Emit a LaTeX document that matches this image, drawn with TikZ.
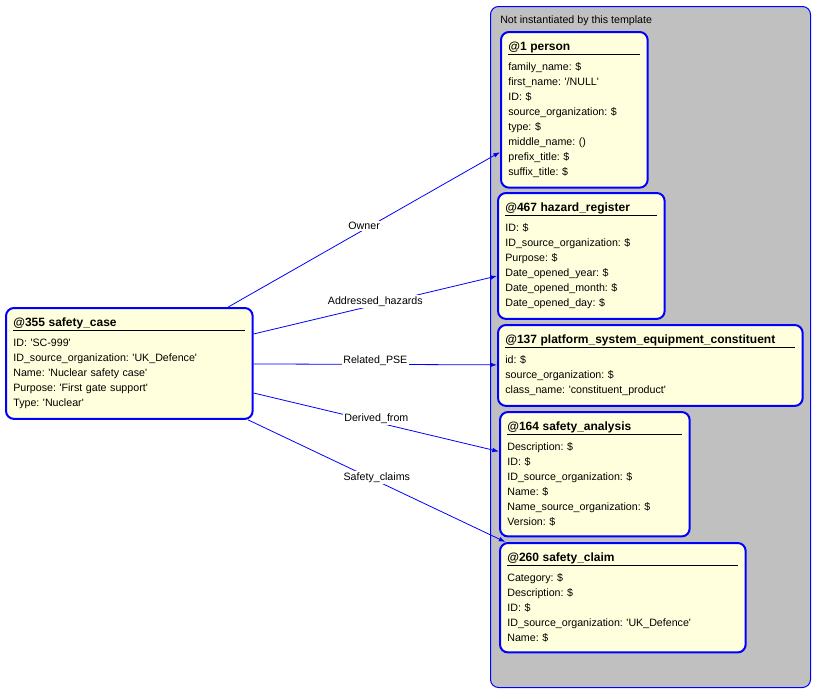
\documentclass[tikz,border=0pt]{standalone}
\usepackage{fontspec}
\newfontfamily\uifont{Liberation Sans}
\usetikzlibrary{arrows.meta}
\definecolor{notefill}{RGB}{255,255,221}
\definecolor{tmplgray}{RGB}{192,192,192}
\tikzset{
  entity/.style={draw=blue, line width=1.5pt, fill=notefill, rounded corners=6pt,
    anchor=north west, inner xsep=5.5pt, inner ysep=7.5pt, align=left,
    font=\uifont\fontsize{8}{11.25}\selectfont\frenchspacing},
  rel/.style={draw=blue, line width=0.6pt, -{Latex[length=5pt,width=3.5pt]}},
  rellabel/.style={fill=white, inner sep=1pt, yshift=2.5pt, font=\uifont\fontsize{8}{10}\selectfont}
}
\newcommand{\enttitle}[1]{\rlap{\rule[-3pt]{\linewidth}{0.75pt}}{\fontsize{9}{11.25}\selectfont\bfseries #1}\\[3.75pt]}
\begin{document}
\begin{tikzpicture}[x=0.75pt,y=-0.75pt]
\useasboundingbox (0,0) rectangle (822,697);
% template frame
\node[draw=blue, line width=0.75pt, fill=tmplgray, rounded corners=6pt, anchor=north west,
  minimum width=240pt, minimum height=510.75pt, inner sep=0pt] (template) at (490,6) {};
\node[anchor=west, inner sep=0pt, font=\uifont\fontsize{8}{10}\selectfont] (tmpltitle) at (500,21) {Not instantiated by this template};
% entities
\node[entity, text width=99pt] (person) at (500,31) {\enttitle{@1 person}
family\_name: \$\\ first\_name: '/NULL'\\ ID: \$\\ source\_organization: \$\\ type: \$\\
middle\_name: ()\\ prefix\_title: \$\\ suffix\_title: \$};
\node[entity, text width=114pt] (hazard) at (497,192) {\enttitle{@467 hazard\_register}
ID: \$\\ ID\_source\_organization: \$\\ Purpose: \$\\ Date\_opened\_year: \$\\
Date\_opened\_month: \$\\ Date\_opened\_day: \$};
\node[entity, text width=217.5pt] (pse) at (497,324) {\enttitle{@137 platform\_system\_equipment\_constituent}
id: \$\\ source\_organization: \$\\ class\_name: 'constituent\_product'};
\node[entity, text width=131.25pt] (analysis) at (499,411) {\enttitle{@164 safety\_analysis}
Description: \$\\ ID: \$\\ ID\_source\_organization: \$\\ Name: \$\\
Name\_source\_organization: \$\\ Version: \$};
\node[entity, text width=173.25pt] (claim) at (499,542) {\enttitle{@260 safety\_claim}
Category: \$\\ Description: \$\\ ID: \$\\ ID\_source\_organization: 'UK\_Defence'\\ Name: \$};
\node[entity, text width=174pt] (case) at (5,307) {\enttitle{@355 safety\_case}
ID: 'SC-999'\\ ID\_source\_organization: 'UK\_Defence'\\ Name: 'Nuclear safety case'\\
Purpose: 'First gate support'\\ Type: 'Nuclear'};
% relations
\draw[rel] (case) -- node[rellabel] {Owner} (person);
\draw[rel] (case) -- node[rellabel] {Addressed\_hazards} (hazard);
\draw[rel] (case) -- node[rellabel] {Related\_PSE} (pse);
\draw[rel] (case) -- node[rellabel] {Derived\_from} (analysis);
\draw[rel] (case) -- node[rellabel] {Safety\_claims} (claim);
\end{tikzpicture}
\end{document}
